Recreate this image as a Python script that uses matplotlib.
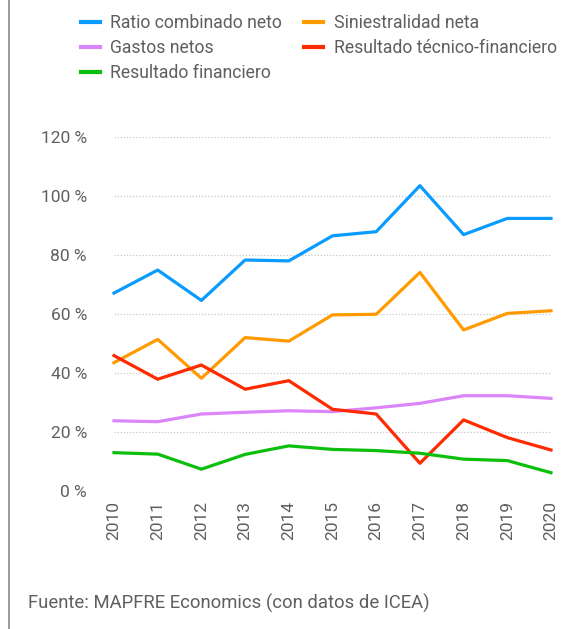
import matplotlib
matplotlib.use('Agg')
import matplotlib.pyplot as plt
from matplotlib.lines import Line2D

years = [2010, 2011, 2012, 2013, 2014, 2015, 2016, 2017, 2018, 2019, 2020]

ratio_combinado = [67.1, 74.9, 64.6, 78.3, 78.0, 86.5, 87.9, 103.5, 86.9, 92.4, 92.4]
siniestralidad = [43.5, 51.4, 38.2, 52.0, 50.8, 59.7, 59.9, 74.1, 54.6, 60.2, 61.1]
gastos = [23.8, 23.5, 26.1, 26.7, 27.2, 26.9, 28.2, 29.7, 32.3, 32.3, 31.4]
resultado_tec = [45.9, 37.9, 42.7, 34.5, 37.4, 27.7, 26.1, 9.4, 24.1, 18.1, 13.9]
resultado_fin = [13.0, 12.5, 7.4, 12.4, 15.3, 14.1, 13.7, 12.8, 10.8, 10.3, 6.2]

yticks = [0, 20, 40, 60, 80, 100, 120]

plt.rcParams['font.family'] = ['Roboto', 'DejaVu Sans']
txt = '#5f5f5f'

fig = plt.figure(figsize=(5.74, 6.29), dpi=100)
ax = fig.add_axes([114 / 574, 1 - 491 / 629, (551 - 114) / 574, (491 - 137) / 629])

ax.plot(years, ratio_combinado, color='#0a9bff', lw=2.3, clip_on=False, zorder=3)
ax.plot(years, siniestralidad, color='#ff9a00', lw=2.3, clip_on=False, zorder=3)
ax.plot(years, gastos, color='#da85f8', lw=2.3, clip_on=False, zorder=3)
ax.plot(years, resultado_tec, color='#ff2a00', lw=2.3, clip_on=False, zorder=3)
ax.plot(years, resultado_fin, color='#0cbf0c', lw=2.3, clip_on=False, zorder=3)

ax.set_xlim(2010, 2020)
ax.set_ylim(0, 120)
ax.set_yticks(yticks)
ax.set_yticklabels([f'{v} %' for v in yticks])
ax.set_xticks(years)
ax.set_xticklabels([str(y) for y in years], rotation=90)
ax.grid(axis='y', color='#c8c8c8', ls=(0, (1, 1.5)), lw=0.9)
for s in ax.spines.values():
    s.set_visible(False)
ax.tick_params(length=0, labelsize=12.5, colors=txt)
ax.tick_params(axis='y', pad=19.5)
ax.tick_params(axis='x', pad=7)

handles = [
    Line2D([], [], color='#0a9bff', lw=3),
    Line2D([], [], color='#da85f8', lw=3),
    Line2D([], [], color='#0cbf0c', lw=3),
    Line2D([], [], color='#ff9a00', lw=3),
    Line2D([], [], color='#ff2a00', lw=3),
]
labels = ['Ratio combinado neto', 'Gastos netos', 'Resultado financiero',
          'Siniestralidad neta', 'Resultado técnico-financiero']
leg = fig.legend(handles, labels, ncol=2, loc='upper left', bbox_to_anchor=(81 / 574, 1 - 14 / 629),
                 frameon=False, fontsize=12.7, handlelength=1.05, handletextpad=0.62,
                 columnspacing=1.25, labelspacing=0.4, borderaxespad=0, borderpad=0)
for t in leg.get_texts():
    t.set_color(txt)

fig.text(28 / 574, 1 - 603 / 629, 'Fuente: MAPFRE Economics (con datos de ICEA)',
         fontsize=13.3, color=txt, va='center', ha='left')

fig.add_artist(Line2D([8.5 / 574, 8.5 / 574], [0, 1], color='#8a8a8a', lw=1.2,
                      transform=fig.transFigure))

fig.savefig('out.png', dpi=100)
